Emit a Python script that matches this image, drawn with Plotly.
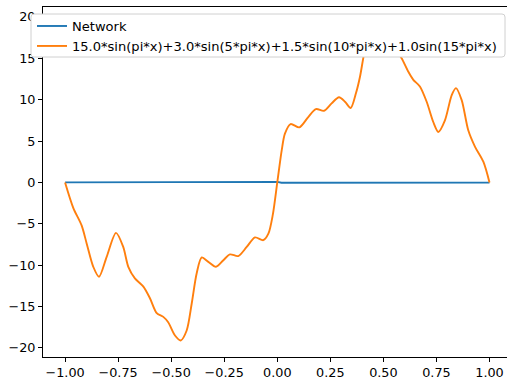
import plotly.graph_objects as go

# Target curve
target_x = [-1.000, -0.961, -0.922, -0.898, -0.867, -0.840, -0.804, -0.760, -0.726, -0.702,
            -0.671, -0.631, -0.600, -0.568, -0.537, -0.514, -0.482, -0.455, -0.427, -0.403,
            -0.380, -0.356, -0.325, -0.289, -0.254, -0.223, -0.184, -0.144, -0.105, -0.066,
            -0.042, -0.021, 0.000, 0.021, 0.036, 0.063, 0.104, 0.146, 0.182, 0.220,
            0.256, 0.291, 0.319, 0.346, 0.371, 0.390, 0.405, 0.427, 0.455, 0.482,
            0.514, 0.537, 0.560, 0.586, 0.617, 0.641, 0.672, 0.704, 0.735, 0.759,
            0.790, 0.822, 0.842, 0.869, 0.900, 0.932, 0.971, 1.000]
target_y = [0.0, -3.1, -5.2, -7.4, -10.2, -11.4, -9.0, -6.1, -7.8, -10.2,
            -11.6, -12.6, -14.0, -15.8, -16.25, -16.9, -18.5, -19.1, -17.9, -14.6,
            -11.0, -9.07, -9.6, -10.2, -9.4, -8.7, -8.9, -7.8, -6.65, -6.98,
            -6.2, -3.9, 0.0, 3.9, 5.9, 7.05, 6.65, 7.9, 8.86, 8.66,
            9.55, 10.3, 9.75, 9.0, 10.8, 12.8, 15.0, 17.9, 19.1, 18.5,
            16.9, 16.25, 16.0, 15.0, 13.4, 12.4, 11.6, 9.75, 7.3, 6.1,
            7.5, 10.55, 11.4, 9.95, 6.3, 4.3, 2.5, 0.0]

# Network output (almost flat at zero)
net_x = [-1.0, -0.5, 0.0, 0.02, 0.5, 1.0]
net_y = [0.0, 0.03, 0.06, -0.04, -0.03, -0.02]

x_ticks = [-1.0, -0.75, -0.5, -0.25, 0.0, 0.25, 0.5, 0.75, 1.0]
y_ticks = [-20, -15, -10, -5, 0, 5, 10, 15, 20]

label_net = "Network"
label_target = "15.0*sin(pi*x)+3.0*sin(5*pi*x)+1.5*sin(10*pi*x)+1.0sin(15*pi*x)"

FONT = "DejaVu Sans"
FS = 12.8
LFS = 13.05

# plot area geometry in pixels (for the legend frame)
L, R, T, B = 43, 507, 7, 357
def px(x):
    return (x - L) / (R - L)
def py(y):
    return (B - y) / (B - T)

fig = go.Figure()
fig.add_trace(go.Scatter(x=net_x, y=net_y, mode="lines", name=label_net,
                         line=dict(color="#1f77b4", width=1.9), legendgroup="a"))
fig.add_trace(go.Scatter(x=target_x, y=target_y, mode="lines", name=label_target,
                         line=dict(color="#ff7f0e", width=1.9, shape="spline", smoothing=0.8),
                         legendgroup="b"))

# legend frame (rounded, opaque) drawn above the traces
x0, x1, y0, y1 = px(31), px(505), py(57), py(14)
rx, ry = 3 / (R - L), 3 / (B - T)
path = (f"M {x0+rx},{y0} L {x1-rx},{y0} Q {x1},{y0} {x1},{y0+ry} "
        f"L {x1},{y1-ry} Q {x1},{y1} {x1-rx},{y1} L {x0+rx},{y1} Q {x0},{y1} {x0},{y1-ry} "
        f"L {x0},{y0+ry} Q {x0},{y0} {x0+rx},{y0} Z")
fig.add_shape(type="path", path=path, xref="paper", yref="paper", layer="above",
              fillcolor="white", line=dict(color="#d0d0d0", width=1))

fig.update_layout(
    width=507, height=379,
    margin=dict(l=L, r=0, t=T, b=379 - B),
    paper_bgcolor="white", plot_bgcolor="white",
    font=dict(family=FONT, size=FS, color="black"),
    showlegend=True,
    legend=dict(x=px(32), y=py(11), xanchor="left", yanchor="top",
                bgcolor="rgba(0,0,0,0)", borderwidth=0,
                font=dict(family=FONT, size=LFS, color="black"),
                traceorder="grouped", tracegroupgap=0),
    xaxis=dict(range=[-1.104, 1.0825], tickvals=x_ticks,
               ticktext=[("\u2212" if v < 0 else "") + f"{abs(v):.2f}" for v in x_ticks],
               showgrid=False, zeroline=False, showline=True, linecolor="black", linewidth=1,
               mirror=True, ticks="outside", ticklen=4, tickwidth=1, tickcolor="black"),
    yaxis=dict(range=[-21.1, 21.2], tickvals=y_ticks,
               ticktext=[("\u2212" if v < 0 else "") + f"{abs(v)}" for v in y_ticks],
               showgrid=False, zeroline=False, showline=True, linecolor="black", linewidth=1,
               ticks="outside", ticklen=4, tickwidth=1, tickcolor="black"),
)

fig.write_html("out.html")
